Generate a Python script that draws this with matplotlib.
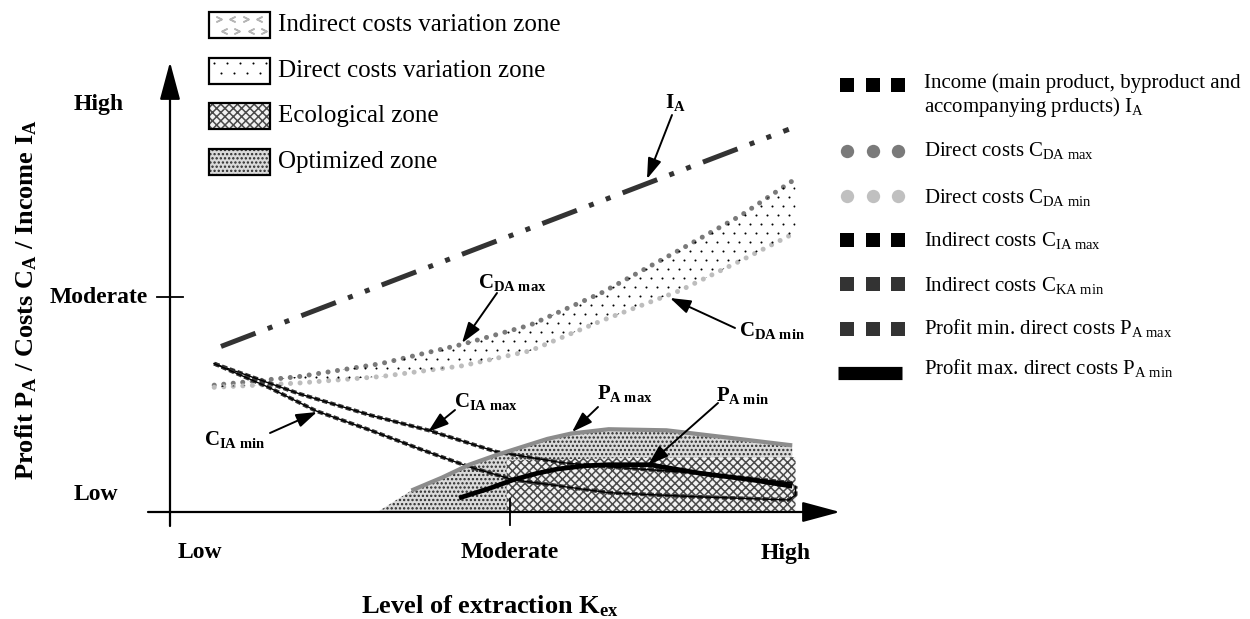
import matplotlib
matplotlib.use('Agg')
import matplotlib.pyplot as plt
import numpy as np
from matplotlib.patches import Rectangle, PathPatch

plt.rcParams['font.family'] = ['Liberation Serif', 'DejaVu Serif']
plt.rcParams['mathtext.fontset'] = 'custom'
plt.rcParams['mathtext.rm'] = 'Liberation Serif'
plt.rcParams['mathtext.it'] = 'Liberation Serif:italic'
plt.rcParams['mathtext.bf'] = 'Liberation Serif:bold'
plt.rcParams['hatch.linewidth'] = 1.1

# schematic values, in "level" units (0 = origin, 1 = Moderate)
levels = ['Low', 'Moderate', 'High']

income_x = [0.15, 1.82]
income_y = [0.77, 1.78]

cda_x = [0.13, 0.38, 0.62, 0.86, 1.06, 1.27, 1.50, 1.68, 1.84]
cda_max = [0.59, 0.63, 0.69, 0.78, 0.87, 1.02, 1.22, 1.38, 1.55]
cda_min = [0.58, 0.60, 0.63, 0.68, 0.75, 0.89, 1.03, 1.17, 1.30]

cia_max_x = [0.13, 0.38, 0.59, 0.76, 0.96, 1.15, 1.29, 1.56, 1.83]
cia_max = [0.69, 0.55, 0.45, 0.38, 0.28, 0.23, 0.21, 0.18, 0.135]
cia_min_x = [0.13, 0.29, 0.43, 0.59, 0.74, 0.88, 1.01, 1.15, 1.29, 1.56, 1.82, 1.84, 1.84]
cia_min = [0.69, 0.58, 0.47, 0.38, 0.29, 0.21, 0.15, 0.12, 0.09, 0.07, 0.056, 0.08, 0.12]

pmax_x = [0.71, 0.80, 0.88, 0.96, 1.03, 1.11, 1.18, 1.29, 1.46, 1.62, 1.83]
pmax = [0.10, 0.16, 0.22, 0.265, 0.30, 0.34, 0.365, 0.385, 0.38, 0.35, 0.31]
pmin_x = [0.85, 0.94, 1.01, 1.08, 1.14, 1.22, 1.29, 1.41, 1.56, 1.71, 1.83]
pmin = [0.065, 0.11, 0.15, 0.18, 0.20, 0.215, 0.22, 0.22, 0.18, 0.15, 0.12]

opt_start = 0.61
eco_x = [0.99, 1.30, 1.59, 1.84]
eco_top = [0.24, 0.25, 0.255, 0.255]


def P(x, y):
    # pixel position on the 1250x619 canvas -> level units (layout helper)
    return ((np.asarray(x) - 170) / 340, (512 - np.asarray(y)) / 215)


def dot_texture(clip, x0, x1, y0, y1, step=11, row=9):
    # sparse staggered dots (texture of the direct costs zone), clipped to a patch
    gx, gy = np.meshgrid(np.arange(x0, x1, step, dtype=float), np.arange(y0, y1, row, dtype=float))
    gx += (np.arange(gy.shape[0])[:, None] % 2) * step / 2
    tx, ty = P(gx.ravel(), gy.ravel())
    sc = ax.scatter(tx, ty, s=2.2, c='black', linewidths=0, zorder=2.5)
    sc.set_clip_path(clip)


fig = plt.figure(figsize=(12.5, 6.19), dpi=100)
ax = fig.add_axes([0, 0, 1, 1])
ax.set_xlim(P(0, 0)[0], P(1250, 0)[0])
ax.set_ylim(P(0, 619)[1], P(0, 0)[1])
ax.axis('off')

# zones
ax.fill_between([opt_start] + pmax_x, [0] + pmax, 0, facecolor='#dadada',
                edgecolor='#2a2a2a', hatch='....', linewidth=0)
ax.fill_between(eco_x, eco_top, 0, facecolor='#f2f2f2', edgecolor='#4a4a4a',
                hatch='xxxx', linewidth=0)
direct = ax.fill_between(cda_x, cda_max, cda_min, facecolor='none', linewidth=0)
direct_clip = PathPatch(direct.get_paths()[0], transform=ax.transData,
                        facecolor='none', edgecolor='none')
ax.add_patch(direct_clip)
dot_texture(direct_clip, 200, 812, 170, 400)

# curves
dots = (0, (0.01, 1.9))
ax.plot(cda_x, cda_max, color='#7a7a7a', lw=3.6, ls=dots, dash_capstyle='round')
ax.plot(cda_x, cda_min, color='#bdbdbd', lw=3.6, ls=dots, dash_capstyle='round')
ax.plot(income_x, income_y, color='#333333', lw=3.6,
        ls=(0, (7.4, 2.6, 1, 2.6, 1, 2.6)), dash_capstyle='butt')
for xs, ys in [(cia_max_x, cia_max), (cia_min_x, cia_min)]:
    ax.plot(xs, ys, color='#333333', lw=2.8, ls=(0, (1.4, 0.7)))
    ax.plot(xs, ys, color='black', lw=1.0)
ax.plot(pmax_x, pmax, color='#8c8c8c', lw=3.0, solid_capstyle='butt')
ax.plot(pmin_x, pmin, color='black', lw=3.4, solid_capstyle='butt')

# axes with arrows
ax.annotate('', xy=P(840, 512), xytext=P(148, 512),
            arrowprops=dict(arrowstyle='-|>,head_length=1.3,head_width=0.35',
                            lw=1.6, color='black', mutation_scale=18, shrinkA=0, shrinkB=0))
ax.annotate('', xy=P(170, 62), xytext=P(170, 526),
            arrowprops=dict(arrowstyle='-|>,head_length=1.3,head_width=0.35',
                            lw=1.6, color='black', mutation_scale=18, shrinkA=0, shrinkB=0))
ax.plot(*zip(P(157, 297), P(183, 297)), color='black', lw=1.3)
ax.plot(*zip(P(510, 499), P(510, 525)), color='black', lw=1.3)

# level labels
for name, (x, y) in zip(levels, [P(200, 553), P(510, 553), P(786, 553)]):
    ax.text(x, y, name, ha='center', va='center', fontsize=17, fontweight='bold')
for name, (x, y) in zip(levels, [P(96, 494), P(99, 297), P(99, 104)]):
    ax.text(x, y, name, ha='center', va='center', fontsize=17, fontweight='bold')

ax.text(*P(490, 606), r'Level of extraction K$_{\mathbf{ex}}$', ha='center', va='center',
        fontsize=19, fontweight='bold')
ax.text(*P(26, 300), r'Profit P$_{\mathbf{A}}$ / Costs C$_{\mathbf{A}}$ / Income I$_{\mathbf{A}}$',
        ha='center', va='center', rotation=90, fontsize=19, fontweight='bold')

# curve annotations
notes = [
    (r'I$_{\mathbf{A}}$', (675, 102), (672, 115), (647, 179)),
    (r'C$_{\mathbf{DA\ max}}$', (512, 282), (497, 293), (462, 343)),
    (r'C$_{\mathbf{DA\ min}}$', (772, 330), (735, 328), (670, 298)),
    (r'C$_{\mathbf{IA\ max}}$', (486, 401), (455, 410), (428, 432)),
    (r'C$_{\mathbf{IA\ min}}$', (235, 440), (270, 433), (317, 412)),
    (r'P$_{\mathbf{A\ max}}$', (625, 393), (598, 407), (572, 432)),
    (r'P$_{\mathbf{A\ min}}$', (743, 395), (718, 403), (648, 465)),
]
for label, lab, tail, head in notes:
    ax.text(*P(*lab), label, ha='center', va='center', fontsize=15, fontweight='bold')
    ax.annotate('', xy=P(*head), xytext=P(*tail),
                arrowprops=dict(arrowstyle='-|>,head_length=0.9,head_width=0.3',
                                lw=1.4, color='black', mutation_scale=14,
                                shrinkA=0, shrinkB=0))

# zone legend (top left)
zone_names = ['Indirect costs variation zone', 'Direct costs variation zone',
              'Ecological zone', 'Optimized zone']
zone_styles = [dict(hatch=None, edgecolor='black', face='white'),
               dict(hatch=None, edgecolor='black', face='white'),
               dict(hatch='xxxx', edgecolor='#4a4a4a', face='#f2f2f2'),
               dict(hatch='....', edgecolor='#2a2a2a', face='#dadada')]
for i, (name, st) in enumerate(zip(zone_names, zone_styles)):
    cy = 25 + i * 45.7
    x0, y0 = P(209, cy + 13)
    x1, y1 = P(270, cy - 13)
    box = Rectangle((x0, y0), x1 - x0, y1 - y0, facecolor=st['face'],
                    edgecolor=st['edgecolor'], hatch=st['hatch'], linewidth=0)
    ax.add_patch(box)
    ax.add_patch(Rectangle((x0, y0), x1 - x0, y1 - y0, facecolor='none',
                           edgecolor='black', linewidth=1.6, zorder=3))
    if i == 0:
        for k, gx in enumerate(np.linspace(219, 259, 4)):
            for j, gy in enumerate([cy - 6, cy + 6]):
                m = '$<$' if (k + j) % 2 else '$>$'
                ax.plot(*P(gx + (j * 5), gy), marker=m, color='#b5b5b5', ms=4)
    if i == 1:
        dot_texture(box, 214, 270, cy - 8, cy + 12, step=13, row=10)
    ax.text(*P(278, cy), name, ha='left', va='center', fontsize=18)

# curve legend (right)
series_names = ['Income (main product, byproduct and\naccompanying prducts) I$_{\\mathrm{A}}$',
                r'Direct costs C$_{\mathrm{DA\ max}}$',
                r'Direct costs C$_{\mathrm{DA\ min}}$',
                r'Indirect costs C$_{\mathrm{IA\ max}}$',
                r'Indirect costs C$_{\mathrm{KA\ min}}$',
                r'Profit min. direct costs P$_{\mathrm{A\ max}}$',
                r'Profit max. direct costs P$_{\mathrm{A\ min}}$']
series_marks = [('s', 'black'), ('o', '#7a7a7a'), ('o', '#c0c0c0'), ('s', 'black'),
                ('s', '#333333'), ('s', '#333333'), ('bar', 'black')]
row_y = [85, 151, 196, 240, 284, 329, 373]
text_y = [96, 150, 198, 240, 285, 328, 368]
for name, (mk, col), ry, ty in zip(series_names, series_marks, row_y, text_y):
    if mk == 'bar':
        ax.plot(*zip(P(838, ry), P(902, ry)), color=col, lw=9.5, solid_capstyle='butt')
    else:
        for gx in [847, 873, 898]:
            ax.plot(*P(gx, ry), marker=mk, color=col, ms=9.6, mew=0, ls='none')
    ax.text(*P(924, ty), name, ha='left', va='center', fontsize=15, linespacing=1.15)

fig.savefig('out.png', dpi=100)
